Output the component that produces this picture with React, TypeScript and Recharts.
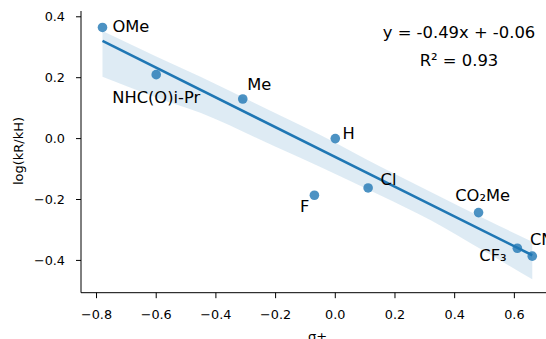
import React from 'react';
import {
  ComposedChart,
  Scatter,
  Area,
  Line,
  XAxis,
  YAxis,
  Customized,
} from 'recharts';

// substituents, sigma+ and log(kR/kH)
const names = ['OMe', 'NHC(O)i-Pr', 'Me', 'H', 'F', 'Cl', 'CO₂Me', 'CF₃', 'CN'];
const sigma = [-0.78, -0.6, -0.31, 0, -0.07, 0.11, 0.48, 0.61, 0.66];
const logRatio = [0.365, 0.21, 0.13, 0.0, -0.186, -0.162, -0.243, -0.36, -0.386];

// regression line end points and 95% band
const fitX = [-0.78, 0.66];
const fitY = [0.321, -0.383];
const bandX = [-0.78, -0.6, -0.45, -0.2, -0.05, 0.15, 0.32, 0.5, 0.66];
const bandLow = [0.203, 0.135, 0.084, -0.027, -0.093, -0.186, -0.268, -0.37, -0.462];
const bandHigh = [0.353, 0.27, 0.202, 0.083, 0.012, -0.092, -0.175, -0.263, -0.339];

const xTicks = [-0.8, -0.6, -0.4, -0.2, 0, 0.2, 0.4, 0.6];
const yTicks = [-0.4, -0.2, 0, 0.2, 0.4];

const equation = 'y = -0.49x + -0.06';
const rSquared = 'R² = 0.93';

// pixel offsets of each annotation from its dot (text start, baseline)
const LABEL_OFFSETS: Record<string, [number, number]> = {
  OMe: [10, 5],
  'NHC(O)i-Pr': [-44, 28.3],
  Me: [4.4, -8.6],
  H: [7.3, 0.7],
  Cl: [12.4, -2.7],
  F: [-14.3, 16.7],
  'CO₂Me': [-23.3, -11.6],
  'CF₃': [-38, 12.7],
  CN: [-2.3, -11],
};

const points = names.map((name, i) => ({ name, x: sigma[i], y: logRatio[i] }));
const curve = bandX.map((x, i) => {
  const j = fitX.indexOf(x);
  return { x, band: [bandLow[i], bandHigh[i]], fit: j >= 0 ? fitY[j] : undefined };
});

const FONT = 'DejaVu Sans, sans-serif';
const BLUE = '#1f77b4';

const fmt = (v: number) => (v < 0 ? '\u2212' : '') + Math.abs(v).toFixed(1);

const Dot = (props: any) => {
  const { cx, cy } = props;
  return <circle cx={cx} cy={cy} r={4.8} fill={BLUE} fillOpacity={0.8} />;
};

const Name = (props: any) => {
  const { cx, cy, payload } = props;
  const [dx, dy] = LABEL_OFFSETS[payload.name] || [6, 0];
  return (
    <text x={cx + dx} y={cy + dy} fontSize={16.3} fontFamily={FONT} fill="#000">
      {payload.name}
    </text>
  );
};

const Annotations = () => (
  <g fontFamily={FONT} fill="#000">
    <text x={459} y={38} fontSize={16.4} textAnchor="middle">{equation}</text>
    <text x={459} y={65.7} fontSize={16.4} textAnchor="middle">{rSquared}</text>
    <text x={23} y={151} fontSize={13} textAnchor="middle" transform="rotate(-90 23 151)">
      log(kR/kH)
    </text>
    <text x={317.5} y={341} fontSize={13} textAnchor="middle">σ+</text>
  </g>
);

export default function App() {
  const tick = { fill: '#000', fontSize: 12.8, fontFamily: FONT };
  return (
    <div style={{ position: 'fixed', left: 0, top: 0, width: 546, height: 339, overflow: 'hidden', background: '#fff' }}>
      <ComposedChart width={546} height={339} data={curve} margin={{ top: 11, right: 0, bottom: 0, left: 0 }}>
        <XAxis
          dataKey="x"
          type="number"
          domain={[-0.852, 0.706]}
          allowDataOverflow
          ticks={xTicks}
          tickFormatter={fmt}
          tick={tick}
          tickSize={5.5}
          tickMargin={11.5}
          height={46.3}
          axisLine={{ stroke: '#000', strokeWidth: 1 }}
          tickLine={{ stroke: '#000', strokeWidth: 1 }}
        />
        <XAxis
          xAxisId="top"
          orientation="top"
          dataKey="x"
          type="number"
          domain={[-0.852, 0.706]}
          allowDataOverflow
          height={0}
          tick={false}
          tickLine={false}
          axisLine={{ stroke: '#000', strokeWidth: 1 }}
        />
        <YAxis
          dataKey="y"
          type="number"
          domain={[-0.506, 0.419]}
          allowDataOverflow
          ticks={yTicks}
          tickFormatter={fmt}
          tick={tick}
          tickSize={5}
          tickMargin={11}
          width={81}
          axisLine={{ stroke: '#000', strokeWidth: 1 }}
          tickLine={{ stroke: '#000', strokeWidth: 1 }}
        />
        <Scatter data={points} shape={<Dot />} isAnimationActive={false} />
        <Area
          dataKey="band"
          type="monotone"
          stroke="none"
          fill={BLUE}
          fillOpacity={0.15}
          isAnimationActive={false}
        />
        <Line
          dataKey="fit"
          type="linear"
          stroke={BLUE}
          strokeWidth={2.6}
          dot={false}
          connectNulls
          isAnimationActive={false}
        />
        <Scatter data={points} shape={<Name />} isAnimationActive={false} />
        <Customized component={<Annotations />} />
      </ComposedChart>
    </div>
  );
}
